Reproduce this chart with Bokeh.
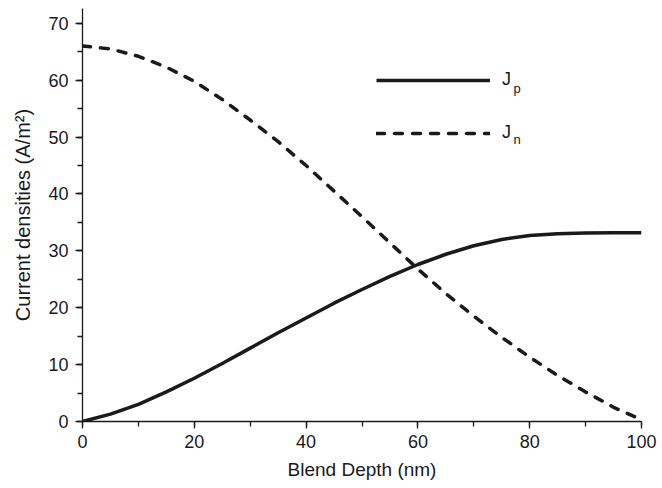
from bokeh.plotting import figure
from bokeh.models import Range1d, Legend, LegendItem, Label, SingleIntervalTicker
from bokeh.embed import file_html
from bokeh.resources import INLINE

depth = [0, 5, 10, 15, 20, 25, 30, 35, 40, 45, 50, 55, 60, 65, 70, 75, 80, 85, 90, 95, 100]
jp = [0.0, 1.3, 3.0, 5.2, 7.6, 10.2, 12.9, 15.6, 18.2, 20.8, 23.2, 25.5, 27.6, 29.4,
      30.9, 32.0, 32.7, 33.0, 33.15, 33.2, 33.2]
jn = [66.0, 65.5, 64.2, 62.3, 59.8, 56.6, 53.0, 49.2, 45.0, 40.5, 36.0, 31.4, 26.8,
      22.5, 18.5, 14.8, 11.3, 8.1, 5.2, 2.5, 0.3]

FONT = "Liberation Sans"
INK = "#1a1a1a"

p = figure(width=662, height=488, output_backend="svg", toolbar_location=None,
           x_range=Range1d(0, 100), y_range=Range1d(0, 72.6),
           min_border_left=82, min_border_right=21, min_border_top=8, min_border_bottom=67)
p.outline_line_color = None
p.grid.visible = False
p.background_fill_color = "white"

r_p = p.line(depth, jp, line_color=INK, line_width=3.5, line_join="round")
r_n = p.line(depth, jn, line_color=INK, line_width=3.5, line_dash="8 10", line_cap="round")

for ax in (p.xaxis[0], p.yaxis[0]):
    ax.axis_line_color = INK
    ax.axis_line_width = 1.3
    ax.major_tick_line_color = INK
    ax.minor_tick_line_color = INK
    ax.major_tick_line_width = 1.3
    ax.minor_tick_line_width = 1.3
    ax.major_tick_in = 0
    ax.major_tick_out = 7
    ax.minor_tick_in = 0
    ax.minor_tick_out = 5
    ax.major_label_text_font = FONT
    ax.major_label_text_font_size = "18px"
    ax.major_label_text_color = INK
    ax.axis_label_text_font = FONT
    ax.axis_label_text_font_style = "normal"
    ax.axis_label_text_color = INK

p.xaxis[0].axis_label_text_font_size = "19px"
p.yaxis[0].axis_label_text_font_size = "20px"
p.xaxis[0].ticker = SingleIntervalTicker(interval=20, num_minor_ticks=2)
p.yaxis[0].ticker = SingleIntervalTicker(interval=10, num_minor_ticks=2)
p.xaxis[0].axis_label = "Blend Depth (nm)"
p.yaxis[0].axis_label = "Current densities (A/m²)"
p.xaxis[0].major_label_standoff = 6
p.yaxis[0].major_label_standoff = 7
p.xaxis[0].axis_label_standoff = 8
p.yaxis[0].axis_label_standoff = 11

legend = Legend(items=[LegendItem(label="J", renderers=[r_p]),
                       LegendItem(label="J", renderers=[r_n])],
                location=(294, 278), glyph_width=114, glyph_height=20,
                label_height=20, spacing=32, padding=0, margin=0,
                label_standoff=12, border_line_color=None,
                background_fill_alpha=0, label_text_font=FONT,
                label_text_font_size="18px", label_text_color=INK)
p.add_layout(legend)

for txt, yy in (("p", 333), ("n", 282)):
    p.add_layout(Label(x=431, y=yy, x_units="screen", y_units="screen", text=txt,
                       text_baseline="alphabetic",
                       text_font=FONT, text_font_size="13px", text_color=INK))

open("out.html", "w").write(file_html(p, INLINE))
